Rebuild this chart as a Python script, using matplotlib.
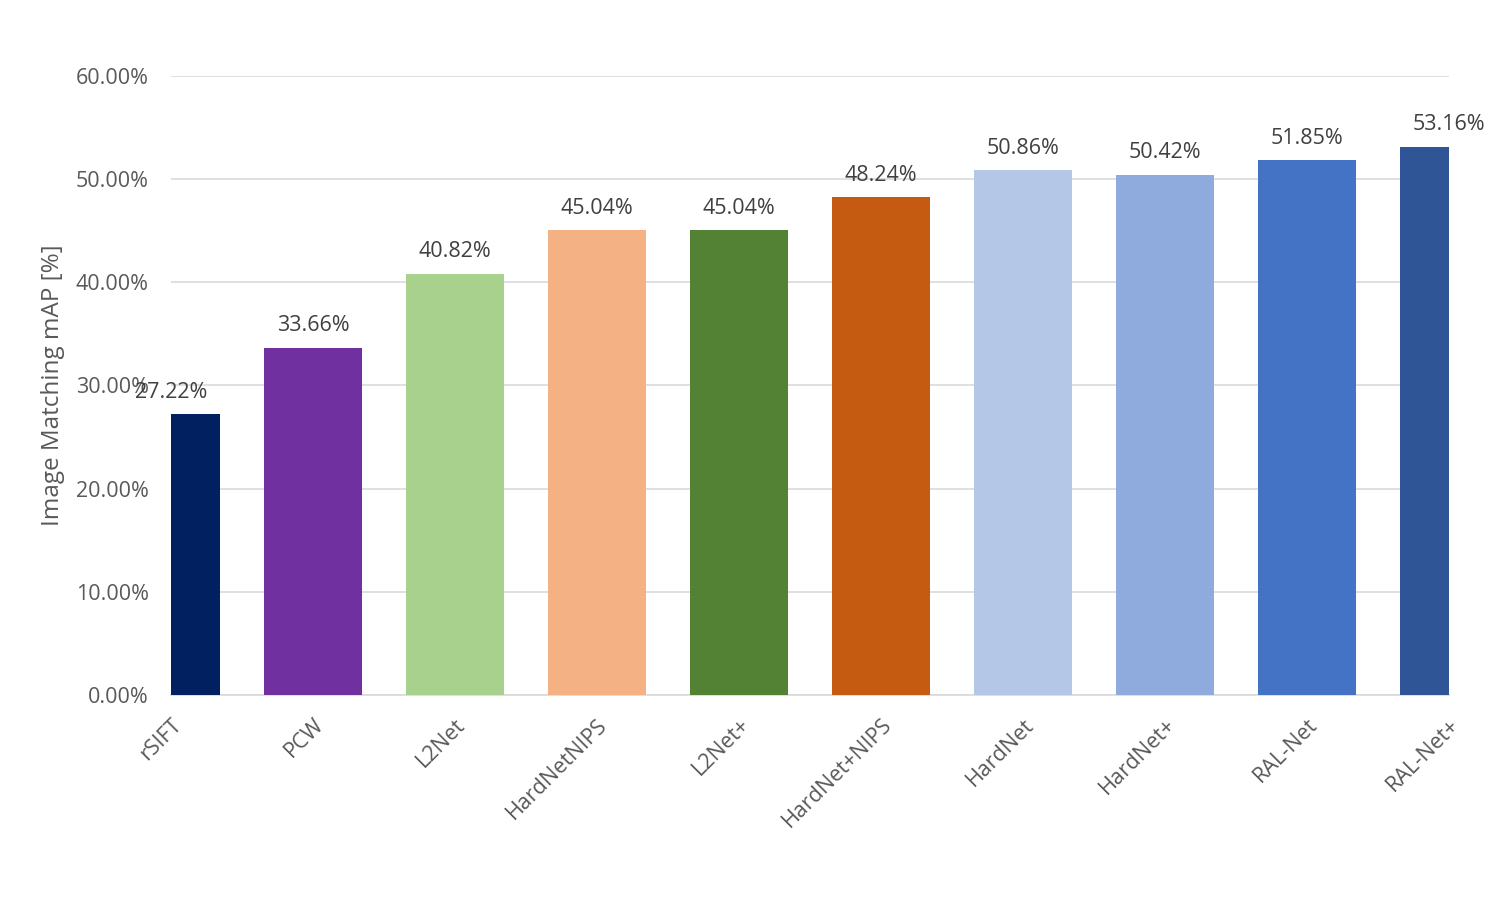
import matplotlib
matplotlib.use("Agg")
from matplotlib import pyplot as plt
from matplotlib.ticker import FuncFormatter, MultipleLocator

# 데이터
methods = ["rSIFT", "PCW", "L2Net", "HardNetNIPS", "L2Net+", "HardNet+NIPS",
           "HardNet", "HardNet+", "RAL-Net", "RAL-Net+"]
map_values = [27.22, 33.66, 40.82, 45.04, 45.04, 48.24, 50.86, 50.42, 51.85, 53.16]
bar_colors = ["#002060", "#7030A0", "#A9D18E", "#F4B183", "#548235", "#C55A11",
              "#B4C7E7", "#8FAADC", "#4472C4", "#2F5597"]

plt.rcParams['font.family'] = ['Open Sans', 'DejaVu Sans']

fig = plt.figure(figsize=(15, 9), dpi=100)
ax = fig.add_axes([0.114, 0.2278, 0.852, 0.6878])

x = list(range(len(methods)))
bars = ax.bar(x, map_values, width=0.69, color=bar_colors, zorder=3)

# 막대 위 값 표시
for xi, v in zip(x, map_values):
    ax.text(xi, v + 1.1, f"{v:.2f}%", ha='center', va='bottom',
            fontsize=15.5, color='#404040', clip_on=False, zorder=4)

ax.set_xlim(0, len(methods) - 1)
ax.set_ylim(0, 60)
ax.yaxis.set_major_locator(MultipleLocator(10))
ax.yaxis.set_major_formatter(FuncFormatter(lambda v, pos: f"{v:.2f}%"))
ax.grid(axis='y', color='#D9D9D9', linewidth=1.2, zorder=0)

for side in ['top', 'right', 'left']:
    ax.spines[side].set_visible(False)
ax.spines['bottom'].set_color('#D9D9D9')
ax.spines['bottom'].set_linewidth(1.2)

ax.tick_params(axis='both', length=0, labelsize=15.5, labelcolor='#595959')
ax.tick_params(axis='y', pad=16)
ax.set_xticks(x)
ax.set_xticklabels(methods, rotation=45, ha='right', rotation_mode='anchor')
ax.tick_params(axis='x', pad=14)

ax.set_ylabel('Image Matching mAP [%]', fontsize=17.5, color='#595959', labelpad=8)

plt.savefig("out.png", dpi=100)
